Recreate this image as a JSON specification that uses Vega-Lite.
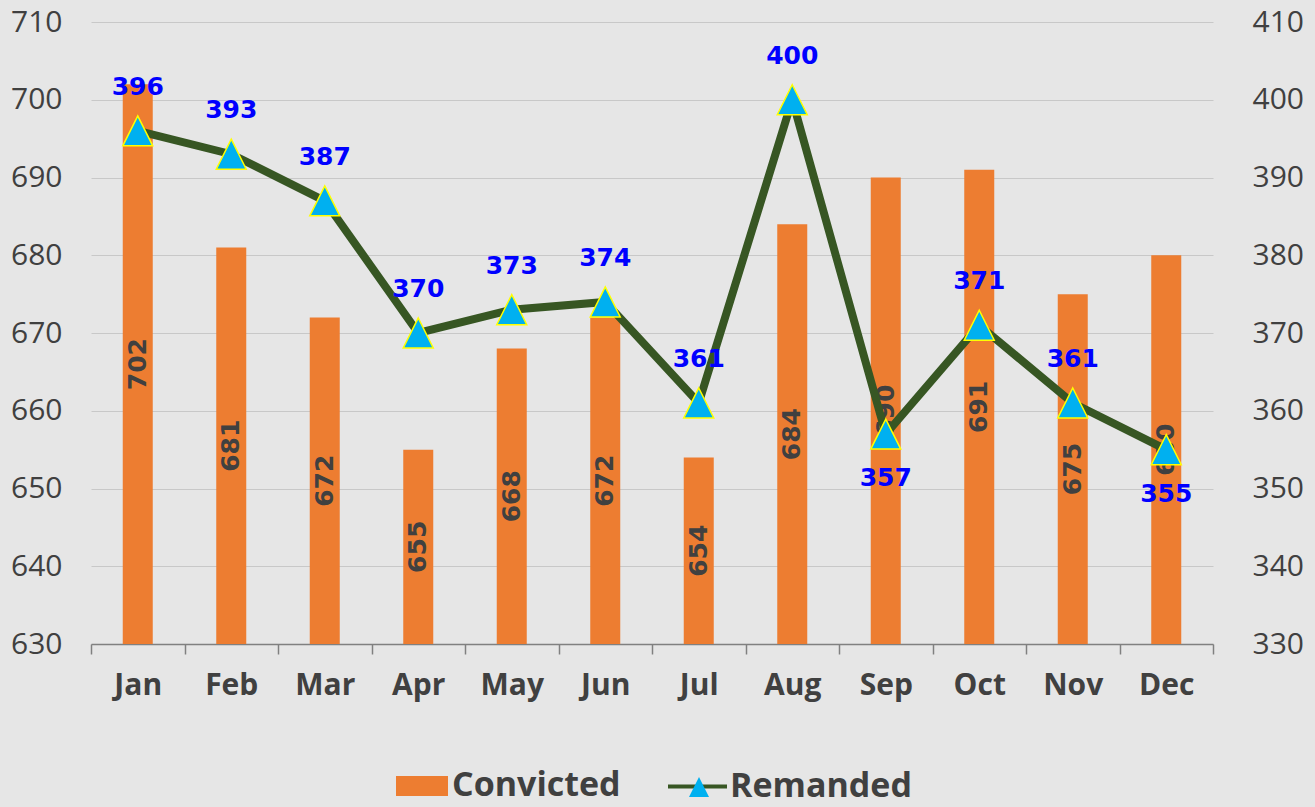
{
  "$schema": "https://vega.github.io/schema/vega-lite/v6.json",
  "width": 1122,
  "height": 622,
  "autosize": {"type": "none"},
  "padding": {"left": 91, "top": 22, "right": 102, "bottom": 163},
  "background": "#E6E6E6",
  "config": {
    "view": {"stroke": null},
    "font": "Open Sans",
    "legend": {"padding": 0, "labelFont": "Open Sans", "labelFontWeight": "bold", "labelFontSize": 34, "labelColor": "#404040", "labelLimit": 0, "title": null}
  },
  "data": {
    "values": [
      {"Month": "Jan", "Convicted": 702, "Remanded": 396},
      {"Month": "Feb", "Convicted": 681, "Remanded": 393},
      {"Month": "Mar", "Convicted": 672, "Remanded": 387},
      {"Month": "Apr", "Convicted": 655, "Remanded": 370},
      {"Month": "May", "Convicted": 668, "Remanded": 373},
      {"Month": "Jun", "Convicted": 672, "Remanded": 374},
      {"Month": "Jul", "Convicted": 654, "Remanded": 361},
      {"Month": "Aug", "Convicted": 684, "Remanded": 400},
      {"Month": "Sep", "Convicted": 690, "Remanded": 357},
      {"Month": "Oct", "Convicted": 691, "Remanded": 371},
      {"Month": "Nov", "Convicted": 675, "Remanded": 361},
      {"Month": "Dec", "Convicted": 680, "Remanded": 355}
    ]
  },
  "encoding": {
    "x": {
      "field": "Month",
      "type": "nominal",
      "sort": ["Jan", "Feb", "Mar", "Apr", "May", "Jun", "Jul", "Aug", "Sep", "Oct", "Nov", "Dec"],
      "scale": {"type": "band", "paddingInner": 0, "paddingOuter": 0},
      "axis": {
        "title": null,
        "labelAngle": 0,
        "labelFont": "Open Sans",
        "labelFontWeight": "bold",
        "labelFontSize": 30,
        "labelColor": "#404040",
        "labelPadding": 16,
        "tickBand": "extent",
        "tickSize": 10,
        "tickColor": "#808080",
        "tickWidth": 1.5,
        "domainColor": "#808080",
        "domainWidth": 1.5,
        "grid": false
      }
    }
  },
  "layer": [
    {
      "layer": [
        {
          "mark": {"type": "bar", "size": 30},
          "encoding": {
            "y": {
              "field": "Convicted",
              "type": "quantitative",
              "scale": {"domain": [630, 710], "nice": false, "zero": false},
              "axis": {
                "title": null,
                "values": [630, 640, 650, 660, 670, 680, 690, 700, 710],
                "labelFontSize": 30,
                "labelColor": "#404040",
                "labelPadding": 29,
                "domain": false,
                "ticks": false,
                "grid": true,
                "gridColor": "#C8C8C8",
                "gridWidth": 1.2
              }
            },
            "y2": {"datum": 630},
            "fill": {
              "datum": "Convicted",
              "type": "nominal",
              "scale": {"domain": ["Convicted"], "range": ["#ED7D31"]},
              "legend": {
                "orient": "none",
                "legendX": 305,
                "legendY": 738,
                "symbolType": "M-1,-0.385H1V0.385H-1Z",
                "symbolSize": 2704,
                "symbolStrokeWidth": 0,
                "symbolFillColor": "#ED7D31",
                "labelOffset": 4
              }
            }
          }
        },
        {
          "transform": [{"calculate": "(datum.Convicted + 630) / 2", "as": "LabelPos"}],
          "mark": {"type": "text", "angle": 270, "align": "center", "baseline": "middle", "font": "DejaVu Sans", "fontWeight": "bold", "fontSize": 25, "color": "#404040"},
          "encoding": {
            "y": {"field": "LabelPos", "type": "quantitative", "scale": {"domain": [630, 710], "nice": false, "zero": false}},
            "text": {"field": "Convicted", "type": "quantitative"}
          }
        }
      ]
    },
    {
      "layer": [
        {
          "mark": {"type": "line", "strokeWidth": 8},
          "encoding": {
            "y": {
              "field": "Remanded",
              "type": "quantitative",
              "scale": {"domain": [330, 410], "nice": false, "zero": false},
              "axis": {
                "orient": "right",
                "title": null,
                "values": [330, 340, 350, 360, 370, 380, 390, 400, 410],
                "labelFontSize": 30,
                "labelColor": "#404040",
                "labelPadding": 39,
                "domain": false,
                "ticks": false,
                "grid": false
              }
            },
            "stroke": {
              "datum": "Remanded",
              "type": "nominal",
              "scale": {"domain": ["Remanded"], "range": ["#375623"]},
              "legend": {
                "orient": "none",
                "legendX": 577,
                "legendY": 735,
                "symbolType": "M-1,-0.068H1V0.068H-1Z",
                "symbolSize": 3481,
                "symbolStrokeWidth": 0,
                "symbolFillColor": "#375623",
                "labelOffset": 3,
                "encode": {"symbols": {"update": {"fill": {"value": "#375623"}, "strokeWidth": {"value": 0}}}}
              }
            }
          }
        },
        {
          "mark": {"type": "point", "filled": true, "fill": "#00B0F0", "stroke": "#FFFF00", "strokeWidth": 1.5, "size": 900, "opacity": 1},
          "encoding": {
            "y": {"field": "Remanded", "type": "quantitative", "scale": {"domain": [330, 410], "nice": false, "zero": false}},
            "shape": {
              "datum": "marker",
              "type": "nominal",
              "scale": {"domain": ["marker"], "range": ["M0,-1L1,1L-1,1Z"]},
              "legend": {
                "orient": "none",
                "legendX": 597,
                "legendY": 754,
                "symbolType": "M0,-1.1L1,1.1L-1,1.1Z",
                "symbolSize": 400,
                "symbolFillColor": "#00B0F0",
                "symbolStrokeColor": "#FFFF00",
                "symbolStrokeWidth": 1.5,
                "labelExpr": "''",
                "labelFontSize": 10,
                "encode": {"symbols": {"update": {"fill": {"value": "#00B0F0"}, "stroke": {"value": "#FFFF00"}, "strokeWidth": {"value": 1.5}, "opacity": {"value": 1}}}}
              }
            }
          }
        },
        {
          "transform": [{"filter": "indexof(['Sep','Dec'], datum.Month) < 0"}],
          "mark": {"type": "text", "align": "center", "baseline": "middle", "dy": -44, "font": "DejaVu Sans", "fontWeight": "bold", "fontSize": 25, "color": "#0000FF"},
          "encoding": {
            "y": {"field": "Remanded", "type": "quantitative", "scale": {"domain": [330, 410], "nice": false, "zero": false}},
            "text": {"field": "Remanded", "type": "quantitative"}
          }
        },
        {
          "transform": [{"filter": "indexof(['Sep','Dec'], datum.Month) >= 0"}],
          "mark": {"type": "text", "align": "center", "baseline": "middle", "dy": 44, "font": "DejaVu Sans", "fontWeight": "bold", "fontSize": 25, "color": "#0000FF"},
          "encoding": {
            "y": {"field": "Remanded", "type": "quantitative", "scale": {"domain": [330, 410], "nice": false, "zero": false}},
            "text": {"field": "Remanded", "type": "quantitative"}
          }
        }
      ]
    }
  ],
  "resolve": {"scale": {"y": "independent"}}
}
